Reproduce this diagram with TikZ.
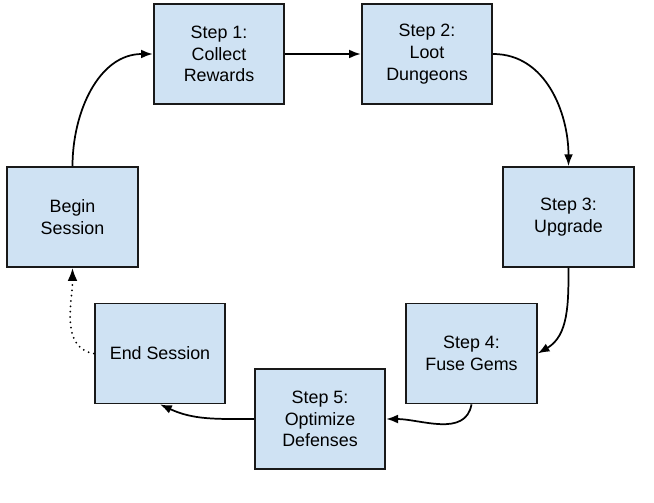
\documentclass[tikz,border=0pt]{standalone}
\usepackage{fontspec}
\setmainfont{Liberation Sans}
\usepackage{xcolor}
\usetikzlibrary{arrows.meta}

\definecolor{boxblue}{HTML}{CFE2F3}

\begin{document}
\begin{tikzpicture}[
            x=0.75pt, y=-0.75pt,
            >=Latex,
            stepbox/.style={rectangle, draw=black!90, line width=1.3pt, fill=boxblue, align=center, minimum width=98pt, minimum height=75pt, inner sep=2pt, font=\fontsize{13.4}{16.3}\selectfont},
            flow/.style={->, line width=1.3pt},
            backflow/.style={->, line width=1.5pt, line cap=round, dash pattern=on 0pt off 4pt}
        ]
        \useasboundingbox (0,0) rectangle (654,503);
        \node[stepbox] (begin) at (72.5,217) {Begin\\Session};
        \node[stepbox] (collect) at (219,54) {Step 1:\\Collect\\Rewards};
        \node[stepbox] (loot) at (427,54) {Step 2:\\Loot\\Dungeons};
        \node[stepbox] (upgrade) at (568.5,217) {Step 3:\\Upgrade};
        \node[stepbox] (fuse) at (471.5,353.5) {Step 4:\\Fuse Gems};
        \node[stepbox] (optimize) at (320,419) {Step 5:\\Optimize\\Defenses};
        \node[stepbox] (endn) at (160,353.5) {End Session};

        \draw[flow] (begin.north) to[out=90, in=180] (collect.west);
        \draw[flow] (collect) -- (loot);
        \draw[flow] (loot.east) to[out=0, in=90] (upgrade.north);
        \draw[flow] (upgrade.south) to[out=-90, in=30] (fuse.east);
        \draw[flow] (fuse.south) to[out=-100, in=0] (optimize.east);
        \draw[flow] (optimize.west) to[out=180, in=-25] (endn.south);
        \draw[backflow] (endn.west) to[out=170, in=-90] (begin.south);
    \end{tikzpicture}
\end{document}
